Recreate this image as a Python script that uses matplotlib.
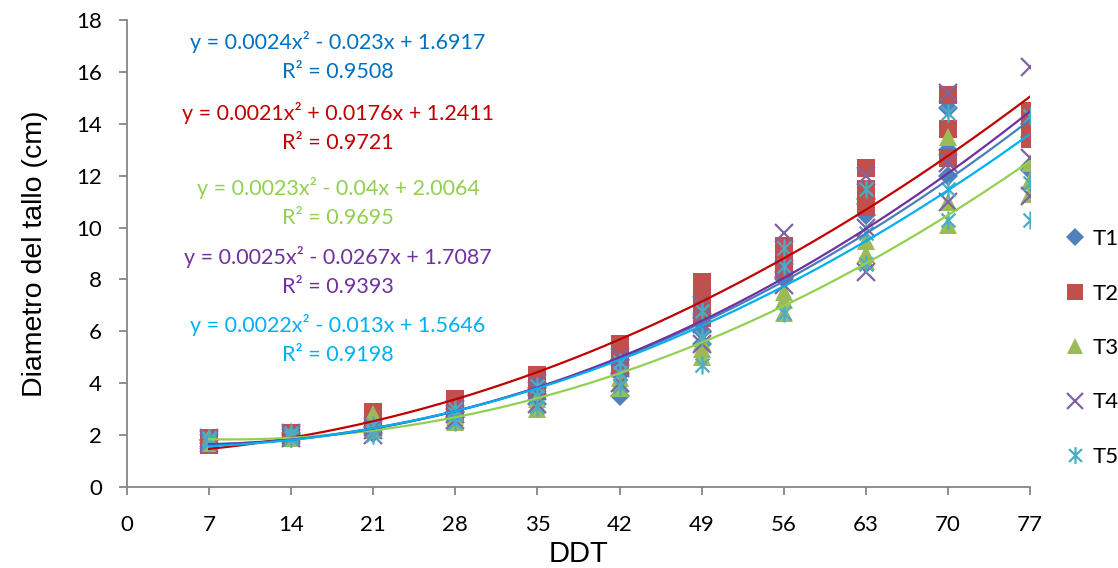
import matplotlib
matplotlib.use("Agg")
import matplotlib.pyplot as plt
import numpy as np
from matplotlib.path import Path
from matplotlib.lines import Line2D

ddt = [7, 14, 21, 28, 35, 42, 49, 56, 63, 70, 77]
xticks = [0, 7, 14, 21, 28, 35, 42, 49, 56, 63, 70, 77]
yticks = [0, 2, 4, 6, 8, 10, 12, 14, 16, 18]
treatments = ["T1", "T2", "T3", "T4", "T5"]

# replicate measurements per treatment (rows = replicates, columns = DDT)
t1 = [[1.8, 2.0, 2.2, 2.7, 3.2, 3.5, 5.5, 8.0, 10.5, 12.0, 12.2],
      [1.7, 1.9, 2.1, 2.9, 3.6, 4.4, 6.0, 8.3, 10.9, 14.6, 14.0],
      [1.8, 2.1, 2.3, 3.0, 3.8, 4.9, 6.5, 8.6, 11.1, 13.0, 13.5]]
t2 = [[1.9, 2.1, 2.9, 3.4, 4.3, 5.5, 7.9, 9.3, 12.3, 15.1, 14.5],
      [1.7, 2.0, 2.7, 3.2, 4.0, 5.0, 7.2, 9.0, 11.5, 13.8, 14.0],
      [1.6, 1.9, 2.4, 2.9, 3.7, 4.7, 6.5, 8.4, 10.8, 12.7, 13.4]]
t3 = [[1.8, 2.0, 2.8, 2.9, 3.4, 4.2, 5.0, 6.7, 8.7, 10.1, 11.3],
      [1.9, 2.0, 2.5, 2.7, 3.2, 4.0, 5.3, 7.2, 9.0, 11.0, 12.5],
      [1.7, 1.9, 2.2, 2.5, 3.0, 3.8, 5.6, 7.5, 9.5, 13.5, 11.8]]
t4 = [[1.8, 2.0, 2.0, 2.6, 3.2, 4.0, 5.5, 7.8, 8.3, 11.0, 11.2],
      [1.7, 1.9, 2.2, 2.8, 3.7, 4.6, 6.3, 8.4, 10.0, 12.5, 12.7],
      [1.9, 2.1, 2.3, 3.0, 4.0, 5.0, 7.0, 9.8, 12.0, 15.2, 16.2]]
t5 = [[1.7, 1.9, 2.0, 2.5, 3.1, 3.9, 4.7, 6.7, 8.6, 10.3, 10.3],
      [1.8, 2.0, 2.2, 2.8, 3.5, 4.4, 5.8, 8.5, 9.8, 11.5, 11.7],
      [1.9, 2.1, 2.4, 3.0, 3.9, 4.8, 6.8, 9.2, 11.5, 14.4, 14.3]]
data = [t1, t2, t3, t4, t5]

# trendline coefficients (a, b, c) for y = a x^2 + b x + c
coefs = [(0.0024, -0.023, 1.6917),
         (0.0021, 0.0176, 1.2411),
         (0.0023, -0.04, 2.0064),
         (0.0025, -0.0267, 1.7087),
         (0.0022, -0.013, 1.5646)]
eq_texts = ["y = 0.0024x² - 0.023x + 1.6917",
            "y = 0.0021x² + 0.0176x + 1.2411",
            "y = 0.0023x² - 0.04x + 2.0064",
            "y = 0.0025x² - 0.0267x + 1.7087",
            "y = 0.0022x² - 0.013x + 1.5646"]
r2_texts = ["R² = 0.9508", "R² = 0.9721", "R² = 0.9695", "R² = 0.9393", "R² = 0.9198"]

marker_colors = ["#4F81BD", "#C0504D", "#9BBB59", "#8064A2", "#4BACC6"]
line_colors = ["#4A7EBB", "#C00000", "#92D050", "#7030A0", "#00B0F0"]
text_colors = ["#0070C0", "#C00000", "#92D050", "#7030A0", "#00B0F0"]

star = Path([(-1, -1), (1, 1), (-1, 1), (1, -1), (0, -1.3), (0, 1.3)],
            [Path.MOVETO, Path.LINETO, Path.MOVETO, Path.LINETO, Path.MOVETO, Path.LINETO])
markers = ["D", "s", "^", "x", star]
msizes = [10, 13, 13, 13, 13]


def is_line_marker(m):
    return (isinstance(m, str) and m == "x") or isinstance(m, Path)


fig = plt.figure(figsize=(11.18, 5.68), dpi=100)
ax = fig.add_axes([127/1118, 81/568, 903/1118, 467/568])

for i, name in enumerate(treatments):
    for rep in data[i]:
        if is_line_marker(markers[i]):
            ax.plot(ddt, rep, linestyle="none", marker=markers[i], markersize=msizes[i],
                    markeredgecolor=marker_colors[i], markerfacecolor="none", markeredgewidth=1.6, zorder=3)
        else:
            ax.plot(ddt, rep, linestyle="none", marker=markers[i], markersize=msizes[i],
                    color=marker_colors[i], markeredgewidth=0, zorder=3)

xs = np.linspace(ddt[0], ddt[-1], 200)
for i in range(5):
    a, b, c = coefs[i]
    ax.plot(xs, a*xs**2 + b*xs + c, color=line_colors[i], lw=1.6, zorder=4)

ax.set_xlim(0, 77)
ax.set_ylim(0, 18)
ax.set_xticks(xticks)
ax.set_yticks(yticks)
for s in ["top", "right"]:
    ax.spines[s].set_visible(False)
for s in ["left", "bottom"]:
    ax.spines[s].set_color("#868686")
    ax.spines[s].set_linewidth(1.3)
ax.tick_params(axis="both", colors="#868686", length=6, width=1.3, labelcolor="black",
               labelsize=16)
ax.tick_params(axis="y", pad=12)
ax.tick_params(axis="x", pad=14)
for lab in ax.get_xticklabels() + ax.get_yticklabels():
    lab.set_fontfamily("Lato")

ax.set_xlabel("DDT", fontsize=21, fontfamily="Liberation Sans", labelpad=4)
ax.set_ylabel("Diametro del tallo (cm)", fontsize=20.5, fontfamily="Liberation Sans", labelpad=20)

eq_y = [42, 113, 188, 257, 325]
for i in range(5):
    fig.text(338/1118, 1 - eq_y[i]/568, eq_texts[i], color=text_colors[i], fontsize=15.5,
             fontfamily="Lato", ha="center", va="center")
    fig.text(338/1118, 1 - (eq_y[i]+30)/568, r2_texts[i], color=text_colors[i], fontsize=15.5,
             fontfamily="Lato", ha="center", va="center")

handles = []
for i in range(5):
    if is_line_marker(markers[i]):
        h = Line2D([], [], linestyle="none", marker=markers[i], markersize=msizes[i] - 1,
                   markeredgecolor=marker_colors[i], markerfacecolor="none", markeredgewidth=1.6)
    else:
        h = Line2D([], [], linestyle="none", marker=markers[i], markersize=msizes[i] - 1,
                   color=marker_colors[i], markeredgewidth=0)
    handles.append(h)
leg = fig.legend(handles, treatments, loc="center left", bbox_to_anchor=(1064/1118, 1 - 348/568),
                 frameon=False, labelspacing=1.55, handletextpad=0.3,
                 handlelength=1.0, borderpad=0, borderaxespad=0,
                 prop={"family": "Lato", "size": 16})

fig.savefig("out.png", dpi=100)
